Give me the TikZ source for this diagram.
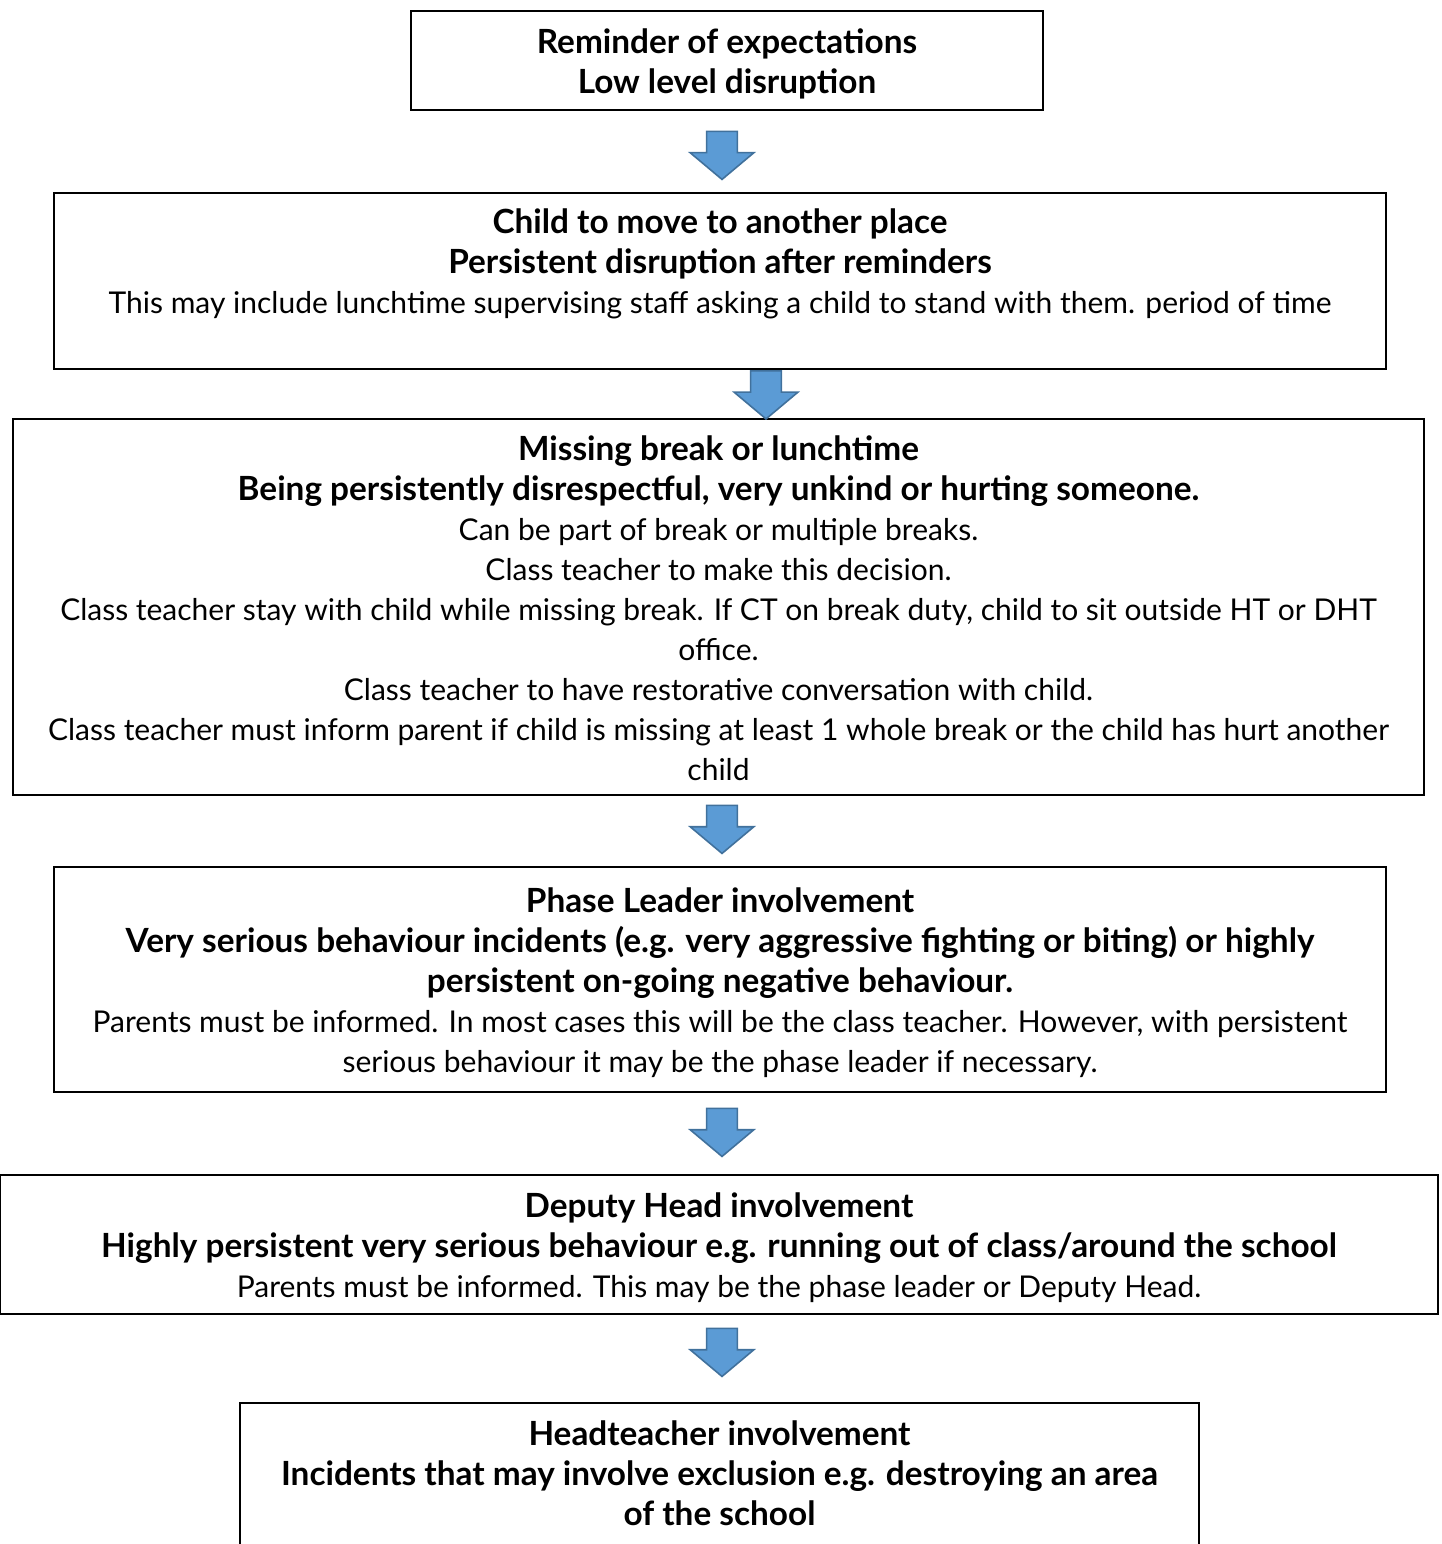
\documentclass[tikz,border=0pt]{standalone}
\usepackage{fontspec}
\setmainfont{Lato}
\usetikzlibrary{shapes.arrows}
\definecolor{arrowfill}{HTML}{5B9BD5}
\definecolor{arrowedge}{HTML}{41719C}
\newcommand\hd[1]{{\fontsize{25}{30}\selectfont\bfseries #1}}
\newcommand\lead{\rule{0pt}{28.5pt}}

\begin{document}
\begin{tikzpicture}[x=0.75pt, y=-0.75pt,
  stage/.style={draw, line width=1.5pt, align=center, anchor=north, inner sep=0pt,
    font=\fontsize{22.5}{30}\selectfont, execute at end node=\strut},
  down/.style={single arrow, draw=arrowedge, fill=arrowfill, line width=1.2pt,
    shape border rotate=270, minimum height=36pt, minimum width=46.5pt,
    single arrow head extend=12.4pt, single arrow tip angle=100, inner sep=10.9pt}]
  \useasboundingbox (0,0) rectangle (1441,1544);
  % Define stages
  \node[stage, minimum width=474pt, minimum height=74.25pt] (remind) at (727,10)
    {\lead\hd{Reminder of expectations}\\ \hd{Low level disruption}};
  \node[stage, minimum width=999pt, minimum height=132pt] (move) at (720,192)
    {\lead\hd{Child to move to another place}\\ \hd{Persistent disruption after reminders}\\
     This may include lunchtime supervising staff asking a child to stand with them. period of time\\ \strut};
  \node[stage, minimum width=1058.25pt, minimum height=282pt] (missing) at (718.5,418)
    {\lead\hd{Missing break or lunchtime}\\
     \hd{Being persistently disrespectful, very unkind or hurting someone.}\\
     Can be part of break or multiple breaks.\\
     Class teacher to make this decision.\\
     Class teacher stay with child while missing break. If CT on break duty, child to sit outside HT or DHT\\
     office.\\
     Class teacher to have restorative conversation with child.\\
     Class teacher must inform parent if child is missing at least 1 whole break or the child has hurt another\\
     child};
  \node[stage, minimum width=999pt, minimum height=168.75pt] (phase) at (720,866)
    {\lead\hd{Phase Leader involvement}\\
     \hd{Very serious behaviour incidents (e.g. very aggressive fighting or biting) or highly}\\
     \hd{persistent on-going negative behaviour.}\\
     Parents must be informed. In most cases this will be the class teacher. However, with persistent\\
     serious behaviour it may be the phase leader if necessary.};
  \node[stage, minimum width=1078.5pt, minimum height=104.25pt] (deputy) at (719,1174)
    {\lead\hd{Deputy Head involvement}\\
     \hd{Highly persistent very serious behaviour e.g. running out of class/around the school}\\
     Parents must be informed. This may be the phase leader or Deputy Head.};
  \node[stage, minimum width=719.25pt, minimum height=134.25pt] (head) at (719.5,1402)
    {\lead\hd{Headteacher involvement}\\
     \hd{Incidents that may involve exclusion e.g. destroying an area}\\
     \hd{of the school}\\ \strut};
  % Define arrows
  \node[down] (a1) at (722,149) {};
  \node[down] (a2) at (766,388.5) {};
  \node[down] (a3) at (722,823) {};
  \node[down] (a4) at (722,1126) {};
  \node[down] (a5) at (722,1346) {};
\end{tikzpicture}
\end{document}
